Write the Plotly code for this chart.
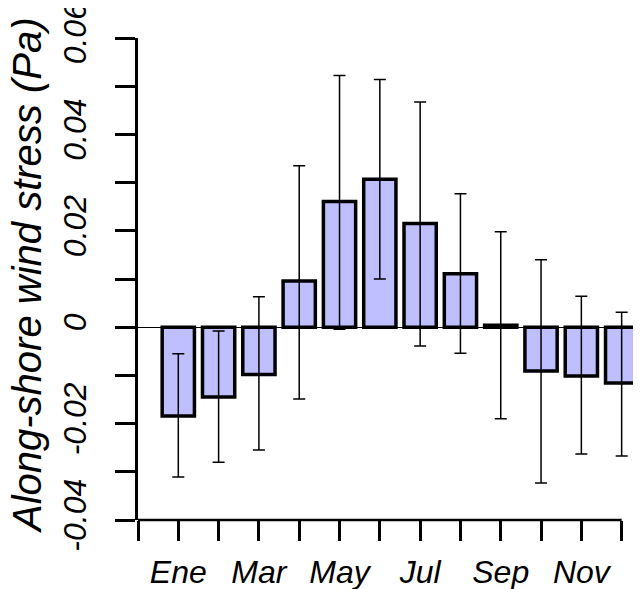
import plotly.graph_objects as go

months = ["Ene", "Feb", "Mar", "Abr", "May", "Jun", "Jul", "Ago", "Sep", "Oct", "Nov", "Dic"]
month_pos = [1, 2, 3, 4, 5, 6, 7, 8, 9, 10, 11, 12]
mean_stress = [-0.0184, -0.0145, -0.0098, 0.0096, 0.0261, 0.0307, 0.0215, 0.0111, 0.0004, -0.0091, -0.0101, -0.0116]
upper_bound = [-0.0055, -0.0008, 0.0063, 0.0335, 0.0522, 0.0514, 0.0467, 0.0277, 0.0198, 0.0140, 0.0064, 0.0031]
lower_bound = [-0.0311, -0.0280, -0.0255, -0.0149, -0.0004, 0.0100, -0.0039, -0.0054, -0.0190, -0.0323, -0.0263, -0.0267]
y_tick_vals = [-0.04, -0.02, 0, 0.02, 0.04, 0.06]
y_tick_text = ["-0.04", "-0.02", "0", "0.02", "0.04", "0.06"]
y_title = "Along-shore wind stress (Pa)"

err_plus = [u - m for u, m in zip(upper_bound, mean_stress)]
err_minus = [m - l for m, l in zip(mean_stress, lower_bound)]

x_tick_vals = [0] + month_pos
x_tick_text = [""] + [m if i % 2 == 0 else "" for i, m in enumerate(months)]

FONT = "Liberation Sans, Arial, sans-serif"

fig = go.Figure()
fig.add_trace(go.Bar(
    x=month_pos, y=mean_stress, width=0.8,
    marker=dict(color="#BFBFFF", line=dict(color="black", width=3.5)),
    error_y=dict(type="data", symmetric=False, array=err_plus, arrayminus=err_minus,
                 color="black", thickness=1.5, width=6),
    showlegend=False,
))

# page body has an 8px default margin, so figure is sized 8px smaller
fig.update_layout(
    width=633, height=581,
    margin=dict(l=130, r=0, t=30, b=69),
    plot_bgcolor="white", paper_bgcolor="white",
    font=dict(family=FONT, color="black"),
    xaxis=dict(
        range=[0, 12.48], tickmode="array", tickvals=x_tick_vals, ticktext=x_tick_text,
        ticks="outside", ticklen=20, tickwidth=2.5, tickcolor="black",
        showline=False, showgrid=False, zeroline=False, automargin=False,
        tickfont=dict(size=32, style="italic", family=FONT),
        ticklabelstandoff=4, ticklabeloverflow="allow",
    ),
    yaxis=dict(
        range=[-0.04, 0.06], tickmode="array", tickvals=y_tick_vals, ticktext=y_tick_text,
        ticks="outside", ticklen=20, tickwidth=2.5, tickcolor="black",
        minor=dict(dtick=0.01, tick0=0, ticks="outside", ticklen=20, tickwidth=2.5, tickcolor="black", showgrid=False),
        showline=True, linewidth=2.5, linecolor="black",
        showgrid=False, zeroline=True, zerolinecolor="black", zerolinewidth=1,
        tickangle=-90, automargin=False,
        tickfont=dict(size=32, style="italic", family=FONT),
        ticklabelstandoff=16, ticklabeloverflow="allow",
    ),
    shapes=[dict(type="line", xref="x", yref="paper", x0=0, x1=12, y0=0, y1=0,
                 line=dict(color="black", width=2.5))],
    annotations=[dict(text=y_title, textangle=-90, xref="paper", yref="paper",
                      x=0, y=0.5, xanchor="center", yanchor="middle", xshift=-111, yshift=4,
                      showarrow=False, font=dict(size=40, style="italic", family=FONT, color="black"))],
)

fig.write_html("out.html")
